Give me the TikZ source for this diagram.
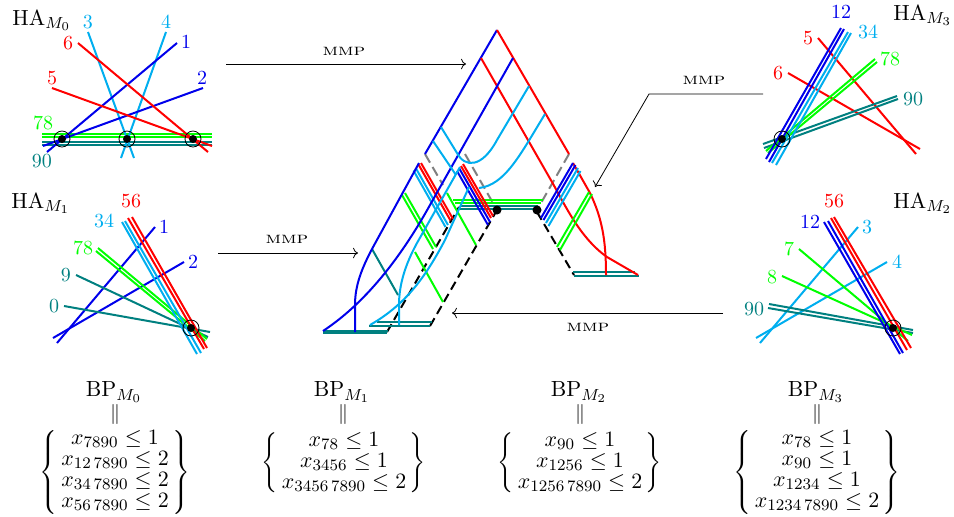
\documentclass[tikz,border=0pt]{standalone}
\usetikzlibrary{arrows.meta}
\definecolor{hred}{RGB}{255,0,0}
\definecolor{hblue}{RGB}{0,0,235}
\definecolor{hcyan}{RGB}{0,174,239}
\definecolor{hgreen}{RGB}{0,255,0}
\definecolor{hteal}{RGB}{0,128,128}
\definecolor{hgray}{RGB}{128,128,128}
\tikzset{
  hl/.style={line width=1pt},
  rd/.style={hl,hred}, bl/.style={hl,hblue}, cy/.style={hl,hcyan},
  gr/.style={hl,hgreen}, te/.style={hl,hteal},
  gd/.style={hl,hgray,dash pattern=on 5pt off 2.5pt},
  kd/.style={hl,black,dash pattern=on 4.5pt off 2.5pt},
  ring/.style={circle,draw=black,line width=0.4pt,inner sep=0pt},
  ml/.style={->,line width=0.4pt,black},
  mmpl/.style={inner sep=0pt},
  lab/.style={inner sep=0pt},
  big/.style={lab,font=\fontsize{10.95}{12}\selectfont},
  rdl/.style={lab,text=hred}, bll/.style={lab,text=hblue}, cyl/.style={lab,text=hcyan},
  grl/.style={lab,text=hgreen}, tel/.style={lab,text=hteal},
  ttl/.style={big,anchor=west}
}
\newcommand{\haspot}[2]{\node[ring,minimum size=8pt] (r#1) at (#2) {}; \node[circle,fill=black,inner sep=0pt,minimum size=4pt] (d#1) at (#2) {};}
\newcommand{\mmptext}{\scalebox{1.3}[1]{\footnotesize\textsc{mmp}}}
\renewcommand{\arraystretch}{0.875}
\begin{document}
\begin{tikzpicture}[x=0.5pt,y=-0.5pt]
\useasboundingbox (0,0) rectangle (954,516);
% ---------- HA M0
\draw[gr] (42,134)--(212,134); \draw[gr] (42,137)--(212,137);
\draw[te] (42,141.5)--(212,141.5); \draw[te] (42,145)--(212,145);
\draw[cy] (88,32)--(134,158); \draw[cy] (166,32)--(121,158);
\draw[bl] (177,43)--(47,152); \draw[bl] (203,88)--(43,146);
\draw[rd] (52,88)--(212,146); \draw[rd] (78,43)--(208,152);
\haspot{a}{62,139} \haspot{b}{127,139} \haspot{c}{193,139}
\node[ttl] (ha0) at (12,20) {HA$_{M_0}$};
\node[cyl] (l03) at (88,22) {3}; \node[cyl] (l04) at (166,22) {4};
\node[rdl] (l06) at (68,43) {6}; \node[bll] (l01) at (186,42) {1};
\node[rdl] (l05) at (52,78) {5}; \node[bll] (l02) at (202,78) {2};
\node[grl] (l078) at (43,123) {78}; \node[tel] (l090) at (42,161) {90};
% ---------- HA M1
\draw[bl] (155,227)--(57,343); \draw[bl] (184,262)--(53,338);
\draw[te] (76,275)--(208,337); \draw[te] (64,306)--(210,332);
\draw[gr] (96,251)--(205,341); \draw[gr] (98,248)--(207,339);
\draw[cy] (122,222)--(197,354); \draw[cy] (125,221)--(201,353);
\draw[rd] (128,218)--(204,349); \draw[rd] (132,217)--(207,348);
\haspot{e}{191,328}
\node[ttl] (ha1) at (11,203) {HA$_{M_1}$};
\node[rdl] (l156) at (131,201) {56}; \node[cyl] (l134) at (104,221) {34};
\node[bll] (l11) at (164,227) {1}; \node[grl] (l178) at (83,248) {78};
\node[bll] (l12) at (193,262) {2}; \node[tel] (l19) at (66,275) {9};
\node[tel] (l10) at (54,306) {0};
% ---------- HA M3
\draw[rd] (818,38)--(916,154); \draw[rd] (788,73)--(920,149);
\draw[te] (897,96)--(763,144); \draw[te] (898,99)--(764,148);
\draw[gr] (875,59)--(766,151); \draw[gr] (877,62)--(768,153);
\draw[cy] (848,32)--(772,163); \draw[cy] (851,33)--(776,165);
\draw[bl] (841,28)--(766,159); \draw[bl] (844,29)--(769,162);
\haspot{f}{782,139}
\node[ttl] (ha3) at (893,15) {HA$_{M_3}$};
\node[bll] (l312) at (841,12) {12}; \node[cyl] (l334) at (868,32) {34};
\node[rdl] (l35) at (808,38) {5}; \node[grl] (l378) at (890,59) {78};
\node[rdl] (l36) at (778,73) {6}; \node[tel] (l390) at (913,99) {90};
% ---------- HA M2
\draw[cy] (858,227)--(760,343); \draw[cy] (887,262)--(756,338);
\draw[te] (769,304)--(913,330); \draw[te] (768,308)--(913,333);
\draw[gr] (799,249)--(908,341); \draw[gr] (782,276)--(912,335);
\draw[bl] (824,222)--(900,354); \draw[bl] (828,221)--(903,353);
\draw[rd] (831,218)--(907,350); \draw[rd] (834,217)--(911,348);
\haspot{g}{893,328}
\node[ttl] (ha2) at (893,203) {HA$_{M_2}$};
\node[rdl] (l256) at (834,201) {56}; \node[bll] (l212) at (810,222) {12};
\node[cyl] (l23) at (867,227) {3}; \node[grl] (l27) at (789,249) {7};
\node[cyl] (l24) at (897,262) {4}; \node[grl] (l28) at (772,277) {8};
\node[tel] (l290) at (754,309) {90};
% ---------- centre
\draw[gd] (425,154)--(443,185);
\draw[gd] (465,154)--(497,210);
\draw[gd] (569,154)--(537,210);
\draw[kd] (387,332)--(459,207);
\draw[kd] (430,326)--(497,210);
\draw[kd] (537,212)--(574,275);
% horizontal bands
\draw[gr] (453,200)--(543,200); \draw[gr] (455,203)--(541,203);
\draw[te] (460,206)--(538,206); \draw[te] (458,209)--(537,209);
\draw[te] (323,330.5)--(388,330.5); \draw[te] (323,332.5)--(387,332.5);
\draw[te] (377,322)--(432,322); \draw[te] (369,326)--(430,326);
\draw[te] (573,272)--(635,272); \draw[te] (574,276)--(639,276);
% top
\draw[bl] (497,30)--(425,154);
\draw[rd] (497,30)--(569,154);
\draw[rd] (481,58)--(552,182)
  .. controls (565,205) and (580,238) .. (607,257) -- (638,275);
\draw[rd] (573,163) -- (590,193) .. controls (602,218) and (606,240) .. (606,275);
% green and teal cross lines
\draw[gr] (402,195)--(433,249); \draw[gr] (405,193)--(436,247);
\draw[gr] (415,252)--(443,302);
\draw[gr] (447,193)--(476,245);
\draw[te] (372,249)--(398,295);
\draw[gr] (589,192)--(557,247); \draw[gr] (592,194)--(560,250);
% left band
\draw[rd] (418.5,164.5)--(450.5,220.5); \draw[rd] (421,163)--(453,219);
\draw[cy] (413.5,170.5)--(445.5,227); \draw[cy] (416,168.5)--(448,225);
% blue curves
\draw[bl] (419,163)--(372,249) .. controls (362,268) and (355,285) .. (355,305) -- (355,332);
\draw[bl] (513,58)--(430,205) .. controls (405,250) and (370,300) .. (323,331);
% right band of the left part
\draw[cy] (433,141)--(456,175);
\draw[rd] (463,164)--(493,216); \draw[rd] (461,166)--(491,218);
\draw[bl] (459,168)--(490,222); \draw[bl] (457,171)--(488,225);
% cyan curves
\draw[cy] (441,127)--(457,153) .. controls (465,168) and (482,168) .. (497,140) -- (529,86);
\draw[cy] (479,188) .. controls (505,185) and (520,155) .. (545,114);
\draw[cy] (460,167)--(417,243) .. controls (405,265) and (399,285) .. (399,305) -- (399,325);
\draw[cy] (469,187)--(445,240) .. controls (425,278) and (405,305) .. (370,325);
% right band
\draw[bl] (573,163)--(541,218); \draw[bl] (575.5,165)--(543.5,220);
\draw[cy] (578,168)--(546,223); \draw[cy] (580.5,171)--(548.5,226);
\node[circle,fill=black,inner sep=0pt,minimum size=4.5pt] (cl) at (497,210) {};
\node[circle,fill=black,inner sep=0pt,minimum size=4.5pt] (cr) at (537,210) {};
% ---------- MMP arrows
\coordinate (m1a) at (226,64); \coordinate (m1b) at (466,64);
\coordinate (m2a) at (218,253); \coordinate (m2b) at (358,253);
\coordinate (m3a) at (763,94); \coordinate (m3c) at (649,94); \coordinate (m3b) at (595,187);
\coordinate (m4a) at (723,313); \coordinate (m4b) at (452,313);
\draw[ml] (m1a)--(m1b); \draw[ml] (m2a)--(m2b);
\draw[ml] (m3a)--(m3c)--(m3b); \draw[ml] (m4a)--(m4b);
\node[mmpl] (t1) at (344,51) {\mmptext};
\node[mmpl] (t2) at (287,239) {\mmptext};
\node[mmpl] (t3) at (704,80) {\mmptext};
\node[mmpl] (t4) at (588,327) {\mmptext};
% ---------- BP
\node[big] (b0) at (114,392) {BP$_{M_0}$};
\node[big] (b1) at (342,392) {BP$_{M_1}$};
\node[big] (b2) at (579,392) {BP$_{M_2}$};
\node[big] (b3) at (816,392) {BP$_{M_3}$};
\node[lab] (p0) at (115,414) {$\|$};
\node[lab] (p1) at (343,414) {$\|$};
\node[lab] (p2) at (580,414) {$\|$};
\node[lab] (p3) at (817,414) {$\|$};
\node[big] (s0) at (115,472) {$\left\{\begin{array}{@{\,}c@{\,}}
 x_{7890}\le 1\\ x_{12\,7890}\le 2\\ x_{34\,7890}\le 2\\ x_{56\,7890}\le 2\end{array}\right\}$};
\node[big] (s1) at (344,463) {$\left\{\begin{array}{@{\,}c@{\,}}
 x_{78}\le 1\\ x_{3456}\le 1\\ x_{3456\,7890}\le 2\end{array}\right\}$};
\node[big] (s2) at (580,463) {$\left\{\begin{array}{@{\,}c@{\,}}
 x_{90}\le 1\\ x_{1256}\le 1\\ x_{1256\,7890}\le 2\end{array}\right\}$};
\node[big] (s3) at (817,472) {$\left\{\begin{array}{@{\,}c@{\,}}
 x_{78}\le 1\\ x_{90}\le 1\\ x_{1234}\le 1\\ x_{1234\,7890}\le 2\end{array}\right\}$};
\end{tikzpicture}
\end{document}
